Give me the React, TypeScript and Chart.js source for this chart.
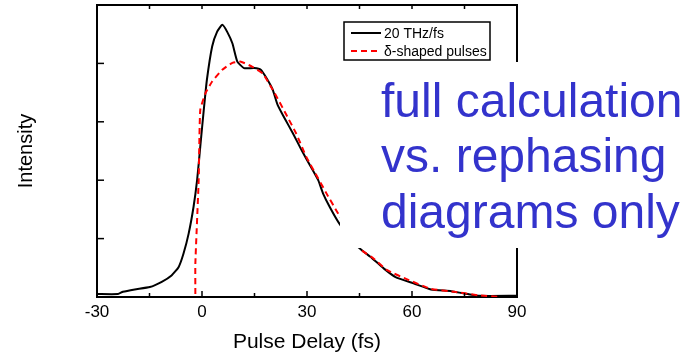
import React, { useEffect, useRef } from 'react';
import { Chart, registerables } from 'chart.js';

Chart.register(...registerables);

const FONT = "'Liberation Sans', Arial, Helvetica, sans-serif";

// x-axis range and tick labels
const xMin = -30;
const xMax = 90;
const xLabelStep = 30;
const xMinorStep = 15;
const yMin = 0;
const yMax = 5;

const xTitle = 'Pulse Delay (fs)';
const yTitle = 'Intensity';

// Series: 20 THz/fs chirped pulses (black solid)
const seriesLabels = ['20 THz/fs', 'δ-shaped pulses'];
const thzX = [-30, -24, -22.6, -19.2, -14.9, -11.5, -8.7, -6.7, -5.3, -3.8, -2.4, -1.4, -0.5, 0.5, 1.4, 2.9, 4.3, 5.8, 7.2, 8.7, 10.1, 12.0, 14.9, 16.8, 18.5, 20.2, 21.6, 23.6, 26.0, 28.4, 30.8, 33.2, 34.6, 36.5, 39.2, 44.7, 48.1, 51.9, 55.3, 60.6, 65.4, 71.2, 76.0, 78.9, 90];
const thzY = [0.05, 0.05, 0.09, 0.13, 0.17, 0.26, 0.37, 0.51, 0.74, 1.09, 1.55, 2.0, 2.57, 3.2, 3.72, 4.29, 4.54, 4.66, 4.54, 4.34, 4.03, 3.92, 3.92, 3.89, 3.74, 3.55, 3.29, 3.06, 2.8, 2.52, 2.26, 2.0, 1.77, 1.54, 1.26, 0.85, 0.69, 0.49, 0.34, 0.23, 0.13, 0.1, 0.05, 0.02, 0.02];

// Series: delta-shaped pulses (red dashed)
const deltaX = [-1.9, -1.9, -0.95, -0.5, 1.0, 2.9, 5.8, 8.7, 11.1, 14.4, 17.3, 19.7, 21.6, 24.1, 26.9, 29.8, 33.2, 35.6, 38.9, 45.7, 49.0, 52.9, 59.1, 65.4, 72.1, 78.9, 85.1];
const deltaY = [0.05, 0.57, 2.0, 3.2, 3.49, 3.69, 3.89, 4.01, 4.03, 3.94, 3.83, 3.6, 3.4, 3.12, 2.8, 2.4, 2.03, 1.77, 1.43, 0.8, 0.66, 0.46, 0.29, 0.14, 0.09, 0.03, 0.0];

const annotationLines = ['full calculation', 'vs. rephasing', 'diagrams only'];

const framePlugin = {
  id: 'framePlugin',
  afterDatasetsDraw(chart: any) {
    const { ctx, chartArea, scales } = chart;
    const { left, right, top, bottom } = chartArea;
    const x = scales.x;
    const y = scales.y;
    ctx.save();
    ctx.strokeStyle = '#000';
    ctx.lineWidth = 2;
    ctx.beginPath();
    ctx.moveTo(left - 1, top);
    ctx.lineTo(right, top);
    ctx.lineTo(right, bottom + 1);
    ctx.stroke();
    ctx.lineWidth = 1.5;
    x.ticks.forEach((t: any) => {
      const px = x.getPixelForValue(t.value);
      if (t.value === xMin || t.value === xMax) return;
      const major = t.value % xLabelStep === 0;
      const len = major ? 6 : 4;
      ctx.beginPath();
      ctx.moveTo(px, bottom);
      ctx.lineTo(px, bottom - len);
      ctx.moveTo(px, top);
      ctx.lineTo(px, top + 4);
      ctx.stroke();
    });
    y.ticks.forEach((t: any) => {
      if (t.value === yMin || t.value === yMax) return;
      const py = y.getPixelForValue(t.value);
      ctx.beginPath();
      ctx.moveTo(left, py);
      ctx.lineTo(left + 7, py);
      ctx.stroke();
    });
    ctx.restore();
  },
  afterDraw(chart: any) {
    const { ctx } = chart;
    ctx.save();
    // white box behind annotation
    ctx.fillStyle = '#fff';
    ctx.fillRect(340, 62, 358, 186);
    ctx.fillStyle = '#3333cc';
    ctx.font = `48px ${FONT}`;
    ctx.textBaseline = 'alphabetic';
    ctx.textAlign = 'left';
    const baselines = [116.5, 172, 228];
    annotationLines.forEach((s, i) => ctx.fillText(s, 381, baselines[i]));

    // legend
    const lx = 344, ly = 22, lw = 146, lh = 38;
    ctx.fillStyle = '#fff';
    ctx.fillRect(lx, ly, lw, lh);
    ctx.strokeStyle = '#000';
    ctx.lineWidth = 1.5;
    ctx.strokeRect(lx, ly, lw, lh);
    const ds = chart.data.datasets;
    const rows = [33, 51];
    ctx.font = `14px ${FONT}`;
    ctx.textBaseline = 'middle';
    [1, 0].forEach((di, r) => {
      const d = ds[di];
      ctx.strokeStyle = d.borderColor;
      ctx.lineWidth = 2;
      ctx.setLineDash(d.borderDash || []);
      ctx.beginPath();
      ctx.moveTo(351, rows[r]);
      ctx.lineTo(381, rows[r]);
      ctx.stroke();
      ctx.setLineDash([]);
      ctx.fillStyle = '#000';
      ctx.fillText(d.label, 384, rows[r] + 1);
    });
    ctx.restore();
  },
};

export default function App() {
  const ref = useRef<HTMLCanvasElement | null>(null);
  useEffect(() => {
    if (!ref.current) return;
    const chart = new Chart(ref.current, {
      type: 'scatter',
      data: {
        datasets: [
          {
            label: seriesLabels[1],
            data: deltaX.map((x, i) => ({ x, y: deltaY[i] })),
            showLine: true,
            borderColor: '#ff0000',
            borderWidth: 2,
            borderDash: [6, 4],
            pointRadius: 0,
            tension: 0.15,
            order: 0,
          },
          {
            label: seriesLabels[0],
            data: thzX.map((x, i) => ({ x, y: thzY[i] })),
            showLine: true,
            borderColor: '#000000',
            borderWidth: 2,
            pointRadius: 0,
            tension: 0.15,
            order: 1,
          },
        ],
      },
      options: {
        animation: false,
        responsive: false,
        devicePixelRatio: 1,
        layout: { padding: { top: 5, right: 181, left: 0, bottom: 0 } },
        plugins: { legend: { display: false }, tooltip: { enabled: false } },
        scales: {
          x: {
            type: 'linear',
            min: xMin,
            max: xMax,
            ticks: {
              stepSize: xMinorStep,
              callback: (v: any) => (Number(v) % xLabelStep === 0 ? String(v) : ''),
              font: { size: 17, family: FONT },
              color: '#000',
              maxRotation: 0,
              autoSkip: false,
              padding: 5,
            },
            grid: { drawOnChartArea: false, drawTicks: false },
            border: { color: '#000', width: 2 },
            title: {
              display: true,
              text: xTitle,
              color: '#000',
              font: { size: 21, family: FONT },
              padding: { top: 0, bottom: 0 },
            },
            afterFit: (s: any) => {
              s.height = 58;
            },
          },
          y: {
            type: 'linear',
            min: yMin,
            max: yMax,
            ticks: { display: false, stepSize: 1 },
            grid: { drawOnChartArea: false, drawTicks: false },
            border: { color: '#000', width: 2 },
            title: {
              display: true,
              text: yTitle,
              color: '#000',
              font: { size: 20, family: FONT },
              padding: { top: 14, bottom: 0 },
            },
            afterFit: (s: any) => {
              s.width = 97;
            },
          },
        },
      },
      plugins: [framePlugin],
    });
    return () => chart.destroy();
  }, []);
  return (
    <div style={{ position: 'fixed', left: 0, top: 0, width: 698, height: 355, background: '#fff' }}>
      <canvas ref={ref} width={698} height={355} style={{ width: 698, height: 355, display: 'block' }} />
    </div>
  );
}
